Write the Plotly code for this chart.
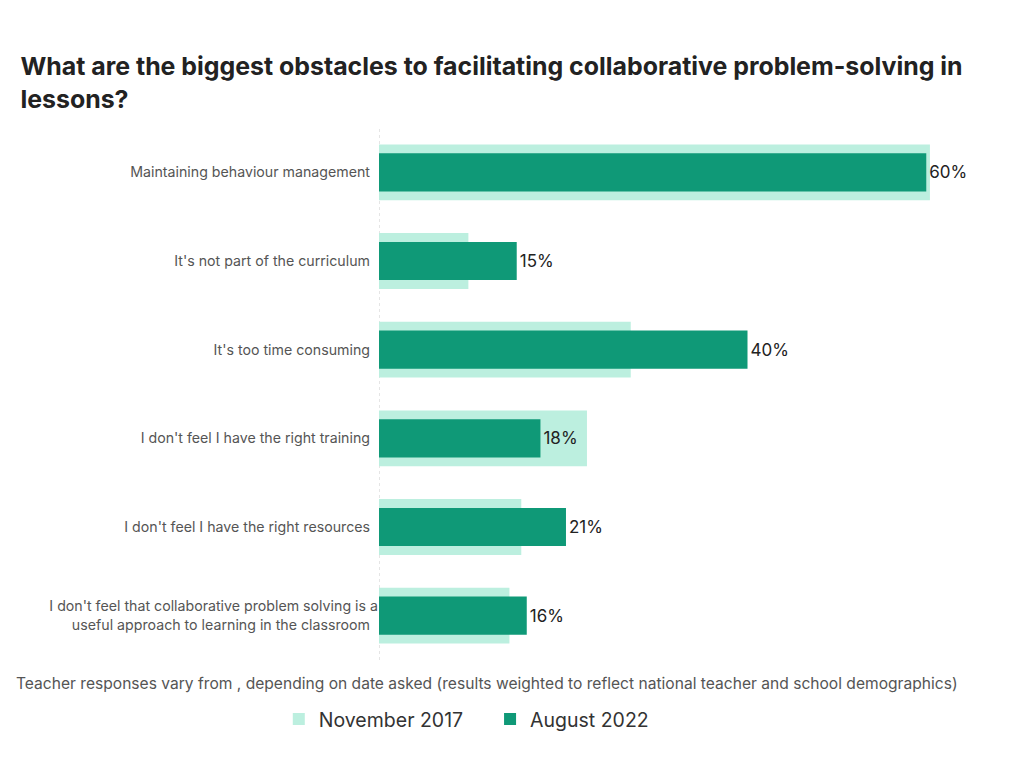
import plotly.graph_objects as go

categories = [
    "Maintaining behaviour management",
    "It's not part of the curriculum",
    "It's too time consuming",
    "I don't feel I have the right training",
    "I don't feel I have the right resources",
    "I don't feel that collaborative problem solving is a<br>useful approach to learning in the classroom",
]
nov_2017 = [60.4, 9.8, 27.6, 22.8, 15.6, 14.3]
aug_2022 = [60.0, 15.1, 40.4, 17.7, 20.5, 16.2]
aug_labels = ["60%", "15%", "40%", "18%", "21%", "16%"]

LIGHT = "#bcefdf"
DARK = "#0f9977"

fig = go.Figure()
fig.add_trace(go.Bar(
    y=categories, x=nov_2017, orientation="h", name="November 2017\u00a0\u00a0\u00a0\u00a0",
    marker=dict(color=LIGHT, line=dict(width=0)), width=0.63,
    hoverinfo="skip",
))
fig.add_trace(go.Bar(
    y=categories, x=aug_2022, orientation="h", name="August 2022",
    marker=dict(color=DARK, line=dict(width=0)), width=0.43,
    text=aug_labels, textposition="outside", cliponaxis=False,
    textfont=dict(size=17, color="#222222", family="Inter"),
))

fig.update_layout(
    width=1024, height=768,
    barmode="overlay",
    paper_bgcolor="white", plot_bgcolor="white",
    margin=dict(l=379, r=43, t=128, b=108),
    font=dict(family="Inter", color="#555555"),
    title=dict(
        text="<b>What are the biggest obstacles to facilitating collaborative problem-solving in<br>lessons?</b>",
        x=0.02, xanchor="left", y=0.902, yanchor="top",
        font=dict(size=24.9, color="#222222", family="Inter"),
    ),
    xaxis=dict(range=[0, 66], showgrid=False, showticklabels=False, zeroline=False,
               showline=False, ticks=""),
    yaxis=dict(autorange="reversed", showgrid=False, ticks="", ticklen=0,
               tickfont=dict(size=14.2, color="#555555"), showline=False,
               zeroline=False, ticksuffix="  "),
    legend=dict(orientation="h", x=0.145, xanchor="center", y=-0.075, yanchor="top",
                font=dict(size=19.5, color="#333333"), traceorder="normal",
                itemwidth=30),
    showlegend=True,
)

fig.add_shape(type="line", xref="x", yref="paper", x0=0, x1=0, y0=0, y1=1,
              line=dict(color="#cccccc", width=1, dash="dot"), layer="below")

fig.add_annotation(
    text="Teacher responses vary from , depending on date asked (results weighted to reflect national teacher and school demographics)",
    xref="paper", yref="paper", x=0.179, xanchor="center", y=-0.0225, yanchor="top",
    showarrow=False, font=dict(size=15.6, color="#555555"),
)

fig.write_html("out.html")
